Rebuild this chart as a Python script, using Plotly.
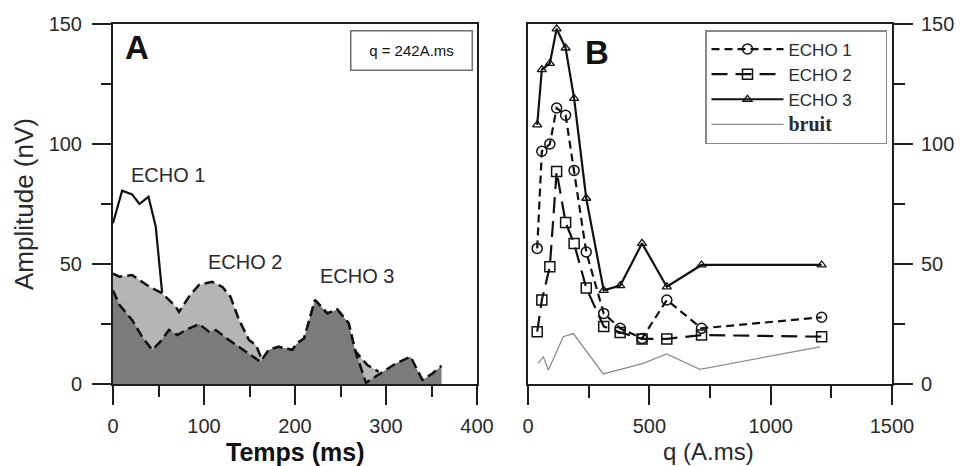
import plotly.graph_objects as go

# ---------- Panel A data (Temps in ms, Amplitude in nV) ----------
t_echo1 = [0, 10, 21, 29, 39, 47, 54]
a_echo1 = [67, 80.5, 79, 75, 78, 65.5, 38]

t_echo2 = [0, 7, 21, 40, 54, 69, 72.5, 83.5, 94.5, 109, 120, 129, 138.5, 149.5, 157, 164,
           171, 182, 197, 202.5, 210, 222, 235.5, 246.5, 259, 266, 268.5, 279.5, 292]
a_echo2 = [46, 44.7, 45.4, 40.5, 37.8, 32.2, 30, 36.4, 41.3, 42.6, 40.5, 36.4, 26.7, 18.3, 16.3, 10,
           14.2, 15.5, 14.2, 17, 19, 35, 29.4, 31, 25.3, 14, 12.7, 7.9, 5.1]

t_echo3 = [0, 7, 21, 32, 43, 52, 61.5, 70.6, 80, 94.5, 105.5, 113, 127.5, 138.5, 149.5, 162,
           171, 182, 197, 202.5, 210, 222, 235.5, 246.5, 259, 266, 278, 292, 311, 327, 340, 351, 361]
a_echo3 = [39, 33, 26.7, 19.7, 14.2, 17.6, 22.5, 20.4, 22.5, 25, 21.8, 22.5, 18.3, 15.5, 12.8, 9.3,
           14.2, 15.5, 14.2, 17, 19, 35, 29.4, 31, 25.3, 14, 0.5, 4, 8.6, 11.4, 1.7, 4.4, 7.6]

# ---------- Panel B data (q in A.ms, Amplitude in nV) ----------
q_vals = [38, 57, 90, 118, 155, 190, 240, 312, 380, 470, 572, 715, 1210]
b_echo1 = [56.5, 97, 100, 115, 112, 89, 55, 29.4, 23.2, 19, 35, 23.2, 27.8]
b_echo2 = [21.8, 35, 48.9, 88.5, 67.3, 58.5, 40, 24, 21.5, 18.8, 18.8, 20.4, 19.7]
b_echo3 = [108, 131, 133.6, 148, 140, 119, 77.4, 39, 41, 58.6, 40.5, 49.6, 49.6]

q_bruit = [42, 63, 84, 145, 187, 310, 475, 571, 708, 1203]
b_bruit = [8.6, 11.4, 5.8, 19.7, 21, 4.2, 8.6, 12.5, 6.1, 15.5]

x_ticks_A = [0, 100, 200, 300, 400]
x_ticks_B = [0, 500, 1000, 1500]
y_ticks = [0, 50, 100, 150]

FONT = "Arial, Liberation Sans, sans-serif"
AX = "#1e1e1e"
TXT = "#2a2a2a"
PAD = "\u00a0" * 6  # widen legend box to match the reference frame

fig = go.Figure()

# Panel A fills
fig.add_trace(go.Scatter(x=t_echo2, y=a_echo2, mode="lines", fill="tozeroy",
                         fillcolor="#b5b5b5", line=dict(color="#111", width=2.5, dash="10px,5px"),
                         showlegend=False, xaxis="x", yaxis="y"))
fig.add_trace(go.Scatter(x=t_echo3, y=a_echo3, mode="lines", fill="tozeroy",
                         fillcolor="#7b7b7b", line=dict(color="#111", width=2.5, dash="10px,5px"),
                         showlegend=False, xaxis="x", yaxis="y"))
fig.add_trace(go.Scatter(x=t_echo1, y=a_echo1, mode="lines",
                         line=dict(color="#111", width=2.2),
                         showlegend=False, xaxis="x", yaxis="y"))

# Panel B
fig.add_trace(go.Scatter(x=q_vals, y=b_echo1, mode="lines+markers", name="ECHO 1" + PAD,
                         line=dict(color="#111", width=2.2, dash="8px,5px"),
                         marker=dict(symbol="circle-open", size=10, color="#111", line=dict(width=1.5)),
                         xaxis="x2", yaxis="y2"))
fig.add_trace(go.Scatter(x=q_vals, y=b_echo2, mode="lines+markers", name="ECHO 2",
                         line=dict(color="#111", width=2.2, dash="16px,8px"),
                         marker=dict(symbol="square-open", size=10, color="#111", line=dict(width=1.5)),
                         xaxis="x2", yaxis="y2"))
fig.add_trace(go.Scatter(x=q_vals, y=b_echo3, mode="lines+markers", name="ECHO 3",
                         line=dict(color="#111", width=2.2),
                         marker=dict(symbol="triangle-up-open", size=8, color="#111", line=dict(width=1.3)),
                         xaxis="x2", yaxis="y2"))
fig.add_trace(go.Scatter(x=q_bruit, y=b_bruit, mode="lines",
                         name="<b><span style='font-family:Liberation Serif,serif;font-size:20px'>bruit</span></b>",
                         line=dict(color="#8c8c8c", width=1.3),
                         xaxis="x2", yaxis="y2"))

yd = [1 - 384 / 466, 1 - 24 / 466]
tickfont = dict(family=FONT, size=20, color=TXT)
common = dict(showgrid=False, zeroline=False, showline=True, linecolor=AX, linewidth=2,
              ticks="outside", ticklen=19, tickwidth=2, tickcolor=AX, mirror=True,
              tickfont=tickfont, automargin=False)

fig.update_layout(
    width=960, height=466,
    margin=dict(l=0, r=0, t=0, b=0, pad=0, autoexpand=False),
    paper_bgcolor="white", plot_bgcolor="white",
    font=dict(family=FONT, color=TXT),
    xaxis=dict(domain=[113 / 960, 477 / 960], range=[0, 400], tickvals=x_ticks_A,
               minor=dict(dtick=50, tick0=0, ticklen=11, tickwidth=2, tickcolor=AX, ticks="outside"),
               ticklabelstandoff=4, anchor="y", **common),
    yaxis=dict(domain=yd, range=[0, 150], tickvals=y_ticks,
               minor=dict(dtick=25, tick0=0, ticklen=10, tickwidth=2, tickcolor=AX, ticks="outside"),
               ticklabelstandoff=6, anchor="x", **common),
    xaxis2=dict(domain=[528 / 960, 892 / 960], range=[0, 1500], tickvals=x_ticks_B,
                minor=dict(dtick=250, tick0=0, ticklen=12, tickwidth=2, tickcolor=AX, ticks="outside"),
                ticklabelstandoff=4, anchor="y2", **common),
    yaxis2=dict(domain=yd, range=[0, 150], tickvals=y_ticks, side="right",
                minor=dict(dtick=25, tick0=0, ticklen=11, tickwidth=2, tickcolor=AX, ticks="outside"),
                ticklabelstandoff=4, anchor="x2", **common),
    legend=dict(x=705 / 960, y=1 - 30 / 466, xanchor="left", yanchor="top",
                bordercolor="#8a8a8a", borderwidth=1.5, bgcolor="white",
                font=dict(family=FONT, size=17, color=TXT), itemwidth=72,
                tracegroupgap=1),
    showlegend=True,
)

ann = []
def label(text, px, py, size, color=TXT, **kw):
    ann.append(dict(text=text, x=px / 960, y=1 - py / 466, xref="paper", yref="paper",
                    xanchor="center", yanchor="middle", showarrow=False,
                    font=dict(family=FONT, size=size, color=color), **kw))

# Axis titles
label("Amplitude (nV)", 24, 204, 26, textangle=-90)
label("<b>Temps (ms)</b>", 295, 452, 25, color="#111")
label("q (A.ms)", 708, 451, 24)
# Panel letters
label("<b>A</b>", 137, 47, 33, color="#111")
label("<b>B</b>", 597, 52, 33, color="#111")
# q box
label("q = 242A.ms", 411, 51, 15, color="#111",
      bordercolor="#6e6e6e", borderwidth=1.5, borderpad=3, width=114, height=32)
# Echo labels
label("ECHO 1", 168, 175, 20)
label("ECHO 2", 245, 262, 20)
label("ECHO 3", 357, 276, 20)
fig.update_layout(annotations=ann)

fig.write_html("out.html", config={"displayModeBar": False},
               post_script="document.body.style.margin='0';document.body.style.overflow='hidden';")
